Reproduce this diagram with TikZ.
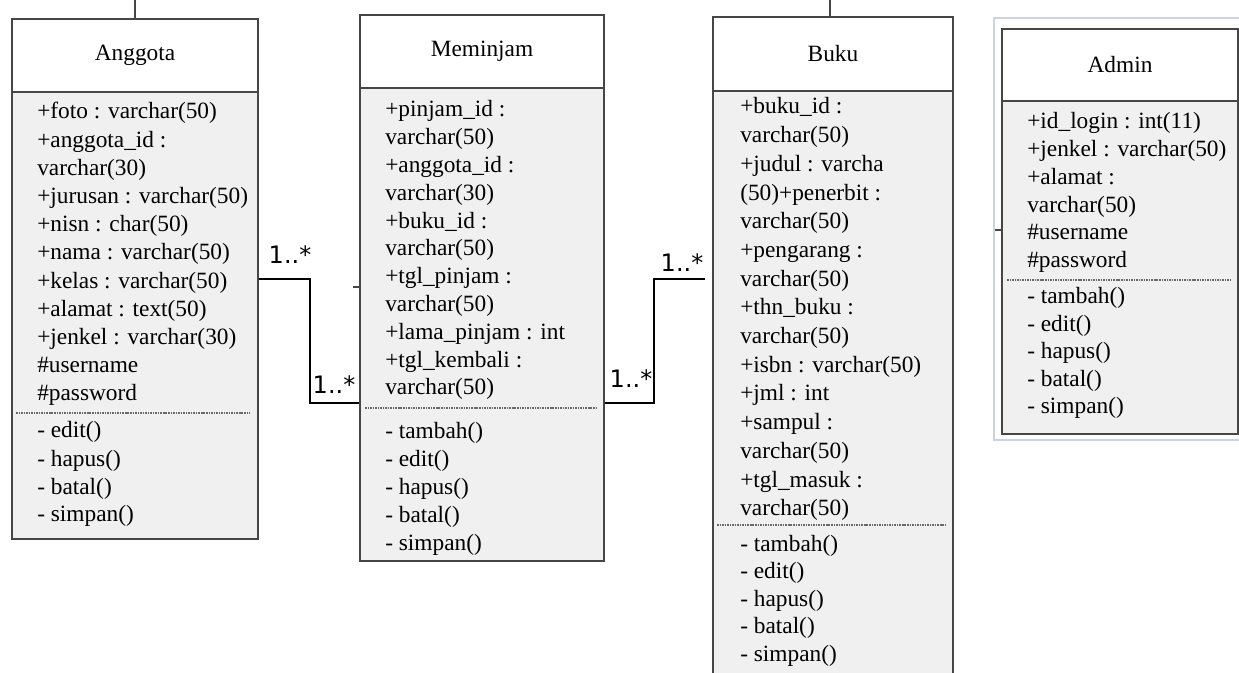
\documentclass[tikz,border=0pt]{standalone}
\usepackage{fontspec}
\setmainfont{Liberation Serif}
\newfontfamily\lblfont{DejaVu Sans}
\definecolor{bord}{RGB}{70,70,70}
\definecolor{bodyfill}{RGB}{240,240,240}
\definecolor{sepcol}{RGB}{105,105,105}
\definecolor{framecol}{RGB}{205,212,224}
\begin{document}
\begin{tikzpicture}[x=0.75pt,y=-0.75pt,
  hdr/.style={draw=bord, line width=1.5pt, fill=white, inner sep=0pt, anchor=north west,
    font=\fontsize{17.5}{20}\selectfont},
  bodybox/.style={draw=bord, line width=1.5pt, fill=bodyfill, inner sep=0pt, anchor=north west},
  txt/.style={anchor=base west, inner sep=0pt, font=\fontsize{17.5}{20}\selectfont},
  sepline/.style={draw=sepcol, line width=1.3pt, dash pattern=on 1.2pt off 0.7pt},
  conn/.style={draw=black, line width=1.1pt},
  mult/.style={inner sep=0pt, font=\lblfont\fontsize{18}{20}\selectfont},
  tick/.style={draw=bord, line width=1.2pt},
  frame/.style={draw=framecol, line width=1pt}
]
\useasboundingbox (0,0) rectangle (1239,673);
\clip (0,0) rectangle (1239,673);

% ---------- Admin window frame ----------
\draw[frame] (1245,18) -- (994,18) -- (994,440) -- (1245,440);

% ---------- Anggota ----------
\node[bodybox, minimum width=184.5pt, minimum height=335.25pt] (angB) at (11,91) {};
\node[hdr, minimum width=184.5pt, minimum height=54.75pt] (angH) at (11,18) {Anggota};
\foreach \t [count=\i from 0] in {+foto : varchar(50), +anggota\_id :, varchar(30),
  +jurusan : varchar(50), +nisn : char(50), +nama : varchar(50), +kelas : varchar(50),
  +alamat : text(50), +jenkel : varchar(30), \#username, \#password}
  \node[txt] (anga\i) at (37,{119+\i*28.2}) {\t};
\draw[sepline] (16,413) -- (250,413);
\foreach \t [count=\i from 0] in {- edit(), - hapus(), - batal(), - simpan()}
  \node[txt] (angm\i) at (37,{438+\i*28}) {\t};

% ---------- Meminjam ----------
\node[bodybox, minimum width=183pt, minimum height=354.75pt] (memB) at (359,87) {};
\node[hdr, minimum width=183pt, minimum height=54.75pt] (memH) at (359,14) {Meminjam};
\foreach \t [count=\i from 0] in {+pinjam\_id :, varchar(50), +anggota\_id :, varchar(30),
  +buku\_id :, varchar(50), +tgl\_pinjam :, varchar(50), +lama\_pinjam : int,
  +tgl\_kembali :, varchar(50)}
  \node[txt] (mema\i) at (385,{117+\i*27.8}) {\t};
\draw[sepline] (365,408) -- (598,408);
\foreach \t [count=\i from 0] in {- tambah(), - edit(), - hapus(), - batal(), - simpan()}
  \node[txt] (memm\i) at (385,{439+\i*27.8}) {\t};

% ---------- Buku ----------
\node[bodybox, minimum width=180pt, minimum height=450pt] (bukB) at (712,90) {};
\node[hdr, minimum width=180pt, minimum height=55.5pt] (bukH) at (712,16) {Buku};
\foreach \t [count=\i from 0] in {+buku\_id :, varchar(50), +judul : varcha, (50)+penerbit :,
  varchar(50), +pengarang :, varchar(50), +thn\_buku :, varchar(50), +isbn : varchar(50),
  +jml : int, +sampul :, varchar(50), +tgl\_masuk :, varchar(50)}
  \node[txt] (buka\i) at (740,{114+\i*28.7}) {\t};
\draw[sepline] (717,525) -- (946,525);
\foreach \t [count=\i from 0] in {- tambah(), - edit(), - hapus(), - batal(), - simpan()}
  \node[txt] (bukm\i) at (740,{551+\i*27.5}) {\t};

% ---------- Admin ----------
\node[bodybox, minimum width=177pt, minimum height=249.75pt] (admB) at (1001,100) {};
\node[hdr, minimum width=177pt, minimum height=54pt] (admH) at (1001,28) {Admin};
\foreach \t [count=\i from 0] in {+id\_login : int(11), +jenkel : varchar(50), +alamat :,
  varchar(50), \#username, \#password}
  \node[txt] (adma\i) at (1027,{129+\i*27.7}) {\t};
\draw[sepline] (1007,280) -- (1230,280);
\foreach \t [count=\i from 0] in {- tambah(), - edit(), - hapus(), - batal(), - simpan()}
  \node[txt] (admm\i) at (1027,{304+\i*27.5}) {\t};

% ---------- small ticks ----------
\draw[tick] (angH.north) -- ++(0,-20);
\draw[tick, line width=0.8pt] (bukH.north -| 830,0) -- ++(0,-18);
\draw[tick] (memB.west |- 0,287) -- ++(-6,0);
\draw[tick] (admB.west |- 0,230) -- ++(-6,0);
\draw[tick] (admB.east |- 0,230) -- ++(4,0);

% ---------- connectors ----------
\coordinate (k1) at (310,279);
\coordinate (k2) at (310,403);
\draw[conn] (angB.east |- k1) -- (k1) -- (k2) -- (memB.west |- k2);
\node[mult] (m1) at (290,255) {1..*};
\node[mult] (m2) at (334,385) {1..*};

\coordinate (k3) at (654,403);
\coordinate (k4) at (654,279);
\coordinate (bukEnd) at (705,279);
\draw[conn] (memB.east |- k3) -- (k3) -- (k4) -- (bukEnd);
\node[mult] (m3) at (631,379) {1..*};
\node[mult] (m4) at (682,263) {1..*};
\end{tikzpicture}
\end{document}
